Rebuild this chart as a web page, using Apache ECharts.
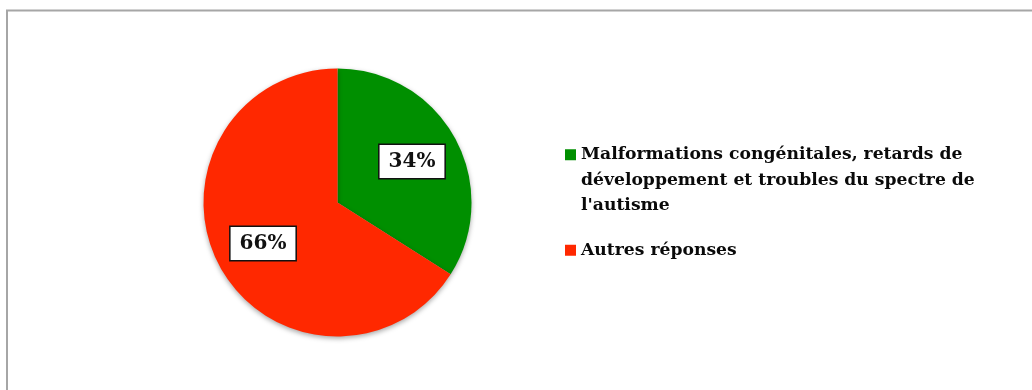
<!DOCTYPE html>
<html>
<head>
<meta charset="utf-8">
<script src="https://cdn.jsdelivr.net/npm/echarts@6/dist/echarts.min.js"></script>
<style>
  html, body { margin: 0; padding: 0; background: #ffffff; }
  #chart { width: 1032px; height: 390px; }
</style>
</head>
<body>
<div id="chart"></div>
<script>
// Répartition des réponses
const categories = [
  "Malformations congénitales, retards de développement et troubles du spectre de l'autisme",
  "Autres réponses"
];
const values = [34, 66];
const colors = ['#008f00', '#ff2800'];

const FONT = '"DejaVu Serif", "Liberation Serif", serif';

// simple word wrap for the legend text
function wrap(text, maxChars) {
  const words = text.split(' ');
  const lines = [];
  let cur = '';
  words.forEach(w => {
    const next = cur ? cur + ' ' + w : w;
    if (next.length > maxChars && cur) { lines.push(cur); cur = w; }
    else cur = next;
  });
  if (cur) lines.push(cur);
  return lines;
}

// legend text: blank lines above so the marker lines up with the first line
function legendText(name) {
  const lines = wrap(name, 39);
  const pad = new Array(lines.length - 1).fill('');
  return pad.concat(lines).join('\n');
}

const pieData = categories.map((name, i) => ({
  name: name, value: values[i], itemStyle: { color: colors[i] }
}));

const chart = echarts.init(document.getElementById('chart'));
chart.setOption({
  backgroundColor: '#ffffff',
  animation: false,
  graphic: [{
    type: 'rect',
    shape: { x: 7, y: 10.5, width: 1200, height: 600 },
    style: { fill: 'none', stroke: '#a6a6a6', lineWidth: 2 },
    silent: true
  }],
  legend: {
    orient: 'vertical',
    left: 565,
    top: 91,
    padding: 0,
    itemWidth: 11,
    itemHeight: 11,
    itemGap: 19,
    icon: 'rect',
    data: categories,
    formatter: legendText,
    textStyle: {
      fontFamily: FONT,
      fontWeight: 'bold',
      fontSize: 17.2,
      lineHeight: 25.5,
      color: '#0a0a0a'
    }
  },
  series: [
    {
      type: 'pie',
      center: [337.5, 202.5],
      radius: [0, 134],
      startAngle: 90,
      clockwise: true,
      label: { show: false },
      labelLine: { show: false },
      itemStyle: {
        shadowBlur: 5,
        shadowOffsetY: 2,
        shadowColor: 'rgba(0,0,0,0.35)'
      },
      data: pieData
    },
    {
      // transparent ring that carries the percentage boxes
      type: 'pie',
      center: [337.5, 202.5],
      radius: [30, 134],
      startAngle: 90,
      clockwise: true,
      silent: true,
      itemStyle: { color: 'rgba(0,0,0,0)' },
      labelLine: { show: false },
      label: {
        show: true,
        position: 'inside',
        formatter: '{c}%',
        fontFamily: FONT,
        fontWeight: 'bold',
        fontSize: 20,
        color: '#111111',
        backgroundColor: '#ffffff',
        borderColor: '#111111',
        borderWidth: 1.5,
        padding: [7, 9, 6, 9]
      },
      data: categories.map((name, i) => ({ name: name, value: values[i] }))
    }
  ]
});
</script>
</body>
</html>
